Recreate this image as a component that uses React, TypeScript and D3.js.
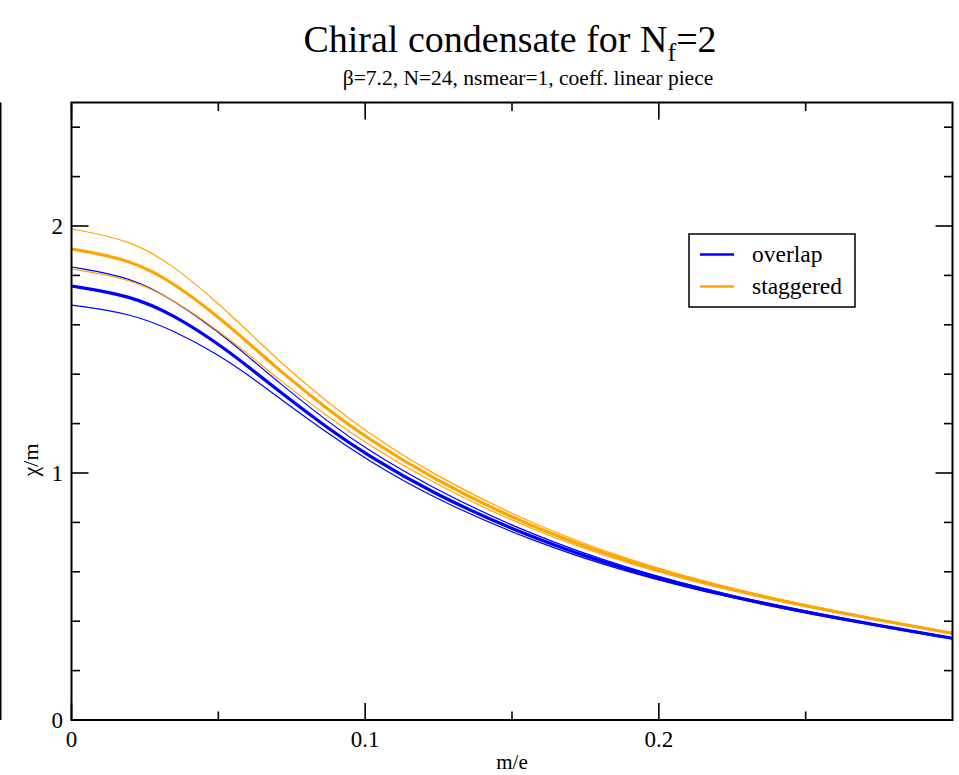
import React, { useEffect, useRef } from 'react';
import * as d3 from 'd3';

// m/e sample positions
const mValues = [0, 0.02, 0.035, 0.05, 0.06, 0.071, 0.088, 0.1, 0.122, 0.156, 0.19, 0.224, 0.262, 0.3];

// overlap: central value and error band edges
const overlapMid = [1.757, 1.719, 1.639, 1.523, 1.432, 1.328, 1.175, 1.078, 0.923, 0.739, 0.602, 0.499, 0.408, 0.331];
const overlapHigh = [1.834, 1.794, 1.699, 1.572, 1.473, 1.362, 1.201, 1.1, 0.943, 0.751, 0.61, 0.504, 0.411, 0.333];
const overlapLow = [1.68, 1.647, 1.576, 1.479, 1.398, 1.301, 1.154, 1.058, 0.905, 0.727, 0.594, 0.494, 0.405, 0.328];

// staggered: central value and error band edges
const staggeredMid = [1.907, 1.865, 1.769, 1.632, 1.53, 1.413, 1.25, 1.147, 0.982, 0.783, 0.637, 0.527, 0.432, 0.351];
const staggeredHigh = [1.988, 1.944, 1.838, 1.687, 1.575, 1.449, 1.278, 1.171, 1.0, 0.796, 0.645, 0.532, 0.435, 0.354];
const staggeredLow = [1.826, 1.788, 1.7, 1.576, 1.484, 1.374, 1.222, 1.122, 0.964, 0.771, 0.629, 0.522, 0.429, 0.349];

const xMajor = [0, 0.1, 0.2];
const xMinor = [0.05, 0.15, 0.25];
const yMajor = [0, 1, 2];
const yMinor = [0.2, 0.4, 0.6, 0.8, 1.2, 1.4, 1.6, 1.8, 2.2, 2.4];

const legendItems = [
  { label: 'overlap', color: '#0000ff' },
  { label: 'staggered', color: '#ffa500' },
];

const W = 959;
const H = 775;
const FONT = '"Liberation Serif", "Times New Roman", serif';

export default function App() {
  const svgRef = useRef<SVGSVGElement>(null);

  useEffect(() => {
    const svg = d3.select(svgRef.current);
    svg.selectAll('*').remove();

    const left = 71.5, right = 952.5, top = 102.5, bottom = 720;
    const x = d3.scaleLinear().domain([0, 0.3]).range([left, right]);
    const y = d3.scaleLinear().domain([0, 2.5]).range([bottom, top]);

    // stray frame edge at the far left
    svg.append('line')
      .attr('x1', 0.75).attr('x2', 0.75)
      .attr('y1', top).attr('y2', bottom)
      .attr('stroke', '#000').attr('stroke-width', 1.5);

    const clip = svg.append('defs').append('clipPath').attr('id', 'plotclip');
    clip.append('rect').attr('x', left).attr('y', top)
      .attr('width', right - left).attr('height', bottom - top);

    const line = d3.line<number>()
      .x((_, i) => x(mValues[i]))
      .y(d => y(d))
      .curve(d3.curveBasis);

    const curves = [
      { data: overlapHigh, color: '#0000ff', w: 1.2 },
      { data: overlapLow, color: '#0000ff', w: 1.2 },
      { data: overlapMid, color: '#0000ff', w: 3.2 },
      { data: staggeredHigh, color: '#ffa500', w: 1.2 },
      { data: staggeredLow, color: '#ffa500', w: 1.2 },
      { data: staggeredMid, color: '#ffa500', w: 3.2 },
    ];

    const g = svg.append('g').attr('clip-path', 'url(#plotclip)');
    curves.forEach(c => {
      g.append('path')
        .attr('d', line(c.data))
        .attr('fill', 'none')
        .attr('stroke', c.color)
        .attr('stroke-width', c.w);
    });

    // frame
    svg.append('rect')
      .attr('x', left).attr('y', top)
      .attr('width', right - left).attr('height', bottom - top)
      .attr('fill', 'none').attr('stroke', '#000').attr('stroke-width', 2);

    const major = 17, minor = 8.5;
    const ticks = svg.append('g').attr('stroke', '#000').attr('stroke-width', 1.6);
    const xt = (v: number, len: number) => {
      ticks.append('line').attr('x1', x(v)).attr('x2', x(v)).attr('y1', bottom).attr('y2', bottom - len);
      ticks.append('line').attr('x1', x(v)).attr('x2', x(v)).attr('y1', top).attr('y2', top + len);
    };
    const yt = (v: number, len: number) => {
      ticks.append('line').attr('x1', left).attr('x2', left + len).attr('y1', y(v)).attr('y2', y(v));
      ticks.append('line').attr('x1', right).attr('x2', right - len).attr('y1', y(v)).attr('y2', y(v));
    };
    xMajor.forEach(v => xt(v, major));
    xMinor.forEach(v => xt(v, minor));
    yMajor.forEach(v => yt(v, major));
    yMinor.forEach(v => yt(v, minor));

    const txt = svg.append('g').attr('font-family', FONT).attr('fill', '#000');
    xMajor.forEach(v => {
      txt.append('text').attr('x', x(v)).attr('y', 747)
        .attr('text-anchor', 'middle').attr('font-size', 23).text(String(v));
    });
    yMajor.forEach(v => {
      txt.append('text').attr('x', 63).attr('y', y(v) + 8)
        .attr('text-anchor', 'end').attr('font-size', 23).text(String(v));
    });

    txt.append('text').attr('x', (left + right) / 2).attr('y', 769)
      .attr('text-anchor', 'middle').attr('font-size', 21).text('m/e');
    txt.append('text')
      .attr('transform', 'translate(38, 460) rotate(-90)')
      .attr('text-anchor', 'middle').attr('font-size', 22).text('χ/m');

    // title with subscript
    const title = txt.append('text').attr('x', 510).attr('y', 52)
      .attr('text-anchor', 'middle').attr('font-size', 38);
    title.append('tspan').text('Chiral condensate for N');
    title.append('tspan').attr('dy', 9).attr('font-size', 26).text('f');
    title.append('tspan').attr('dy', -9).text('=2');

    txt.append('text').attr('x', 528).attr('y', 85)
      .attr('text-anchor', 'middle').attr('font-size', 21.5)
      .text('β=7.2, N=24, nsmear=1, coeff. linear piece');

    // legend
    const lg = svg.append('g');
    lg.append('rect').attr('x', 689).attr('y', 234).attr('width', 166).attr('height', 73)
      .attr('fill', '#fff').attr('stroke', '#000').attr('stroke-width', 1.5);
    legendItems.forEach((it, i) => {
      const ly = 254.5 + i * 32;
      lg.append('line').attr('x1', 700).attr('x2', 734).attr('y1', ly).attr('y2', ly)
        .attr('stroke', it.color).attr('stroke-width', 2.5);
      lg.append('text').attr('x', 752).attr('y', ly + 7)
        .attr('font-family', FONT).attr('font-size', 23.5).text(it.label);
    });
  }, []);

  return (
    <>
      <style>{'body{margin:0}'}</style>
      <svg ref={svgRef} width={W} height={H} style={{ display: 'block', background: '#fff' }} />
    </>
  );
}
